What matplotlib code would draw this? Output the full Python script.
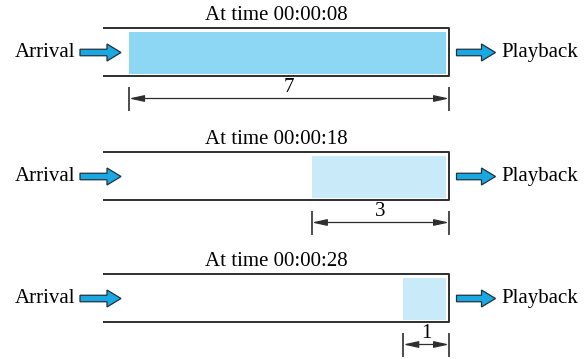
"""Playout buffer snapshots at three moments."""
import matplotlib; matplotlib.use("Agg")
import matplotlib.pyplot as plt
import matplotlib.patches as mpatches

# ── data ─────────────────────────────────────────────────────────────────────
times = ["00:00:08", "00:00:18", "00:00:28"]
buffered = [7, 3, 1]              # seconds of media waiting in the buffer
fill_colors = ["#8DD7F5", "#C8EAF9", "#C8EAF9"]

# ── layout (x in buffer units, y in pixel rows) ──────────────────────────────
PX = 45.7                         # pixels per buffer unit
X_END = 7.0                       # right (playback) edge of the buffer
X_OPEN = X_END - (449 - 103) / PX # open left end of the buffer lines
row_top = [28, 152, 274]
BOX_H = 48
FS = 15

plt.rcParams["font.family"] = ["Liberation Serif", "DejaVu Serif"]
fig = plt.figure(figsize=(5.86, 3.59), dpi=100)
ax = fig.add_axes([0, 0, 1, 1])
ax.set_xlim(X_END - 449 / PX, X_END + (586 - 449) / PX)
ax.set_ylim(359, 0)
ax.axis("off")

line_kw = dict(color="#2e2e2e", lw=1.4, solid_capstyle="butt")
arrow_kw = dict(facecolor="#1AA8E2", edgecolor="#22303c", lw=0.9,
                width=6.5, head_width=17, head_length=14 / PX,
                length_includes_head=True)

for t, amount, col, top in zip(times, buffered, fill_colors, row_top):
    bot = top + BOX_H
    mid = top + BOX_H / 2 + 0.5

    # buffer outline: open on the arrival side
    ax.plot([X_OPEN, X_END, X_END, X_OPEN], [top, top, bot, bot], **line_kw)

    # buffered content
    ax.barh(mid, amount - 3 / PX, left=X_END - amount, height=BOX_H - 6,
            color=col, edgecolor="none")

    ax.text((X_OPEN + X_END) / 2, top - 3, f"At time {t}", fontsize=FS,
            ha="center", va="bottom")

    # arrival / playback arrows
    ax.add_patch(mpatches.FancyArrow(X_END - 369 / PX, mid, 41 / PX, 0, **arrow_kw))
    ax.add_patch(mpatches.FancyArrow(X_END + 7.5 / PX, mid, 39 / PX, 0, **arrow_kw))
    ax.text(X_END - 374 / PX, mid, "Arrival", fontsize=FS, ha="right", va="center")
    ax.text(X_END + 52 / PX, mid, "Playback", fontsize=FS, ha="left", va="center")

    # dimension line showing the buffered amount
    dy = bot + 22.5
    ax.vlines([X_END - amount, X_END], dy - 12, dy + 12, color="#2e2e2e", lw=1.2)
    ax.annotate("", xy=(X_END, dy), xytext=(X_END - amount, dy),
                arrowprops=dict(arrowstyle="<|-|>,head_length=0.9,head_width=0.2",
                                color="#2e2e2e", lw=0.9,
                                mutation_scale=10, shrinkA=0, shrinkB=0))
    ax.text(X_END - amount / 2, dy - 1, str(amount), fontsize=FS,
            ha="center", va="bottom")

fig.savefig("out.png", dpi=100)
